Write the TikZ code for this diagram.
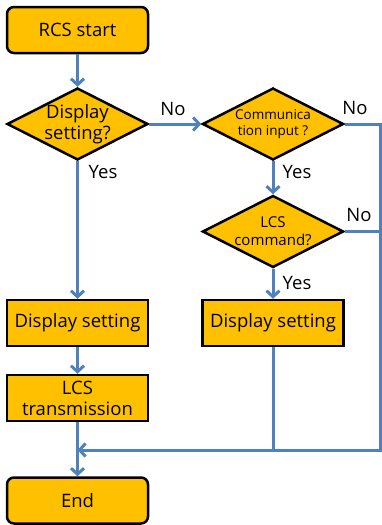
\documentclass[tikz,border=0pt]{standalone}
\usepackage{fontspec}
\setmainfont{Open Sans}
\usetikzlibrary{shapes.geometric,arrows.meta}
\definecolor{flowfill}{HTML}{FFC000}
\definecolor{flowline}{HTML}{4F81BD}
\begin{document}
\begin{tikzpicture}[x=1pt,y=-1pt,
  box/.style={draw=black,line width=2.5pt,fill=flowfill,minimum width=141pt,minimum height=46pt,inner sep=0pt,align=center,font=\fontsize{18.5}{21}\selectfont},
  term/.style={box,rounded corners=7pt},
  dia/.style={diamond,draw=black,line width=2.5pt,fill=flowfill,minimum width=141pt,minimum height=72pt,inner sep=0pt},
  dtext/.style={align=center,inner sep=0pt},
  conn/.style={draw=flowline,line width=3pt},
  arr/.style={conn,-{Straight Barb[length=6pt,width=13pt]}},
  lbl/.style={font=\fontsize{18.5}{21}\selectfont,inner sep=0pt}]
\useasboundingbox (0,0) rectangle (381,525);

% left column
\node[term] (start) at (77.5,30) {RCS start};
\node[dia] (d1) at (77.5,124) {};
\node[dtext,font=\fontsize{18.5}{21}\selectfont] (t1) at (d1.center) {Display\\setting?};
\node[box] (ds1) at (77.5,323) {Display setting};
\node[box] (lcs) at (77.5,398) {LCS\\transmission};
\node[term] (end) at (77.5,500.5) {End};

% right column
\node[dia] (d2) at (273,124) {};
\node[dtext,font=\fontsize{13.5}{16}\selectfont] (t2) at (d2.center) {Communica\\tion input ?};
\node[dia] (d3) at (273,231.5) {};
\node[dtext,font=\fontsize{15}{18}\selectfont] (t3) at (d3.center) {LCS\\command?};
\node[box] (ds2) at (273,323) {Display setting};

% merge points
\coordinate (rt) at (380,124);
\coordinate (rb) at (380,450);
\coordinate (join) at (77.5,450);
\coordinate (mid) at (273,450);
\coordinate (rm) at (380,231.5);

% connectors
\draw[arr] (start) -- (d1);
\draw[arr] (d1) -- (ds1);
\draw[arr] (ds1) -- (lcs);
\draw[conn] (lcs) -- (join);
\draw[arr] (join) -- (end);
\draw[arr] (d1) -- (d2);
\draw[arr] (d2) -- (d3);
\draw[arr] (d3) -- (ds2);
\draw[conn] (d2.east) -- (rt) -- (rb) -- (mid);
\draw[arr] (mid) -- (join);
\draw[conn] (d3.east) -- (rm);
\draw[conn] (ds2) -- (mid);

% branch labels
\node[lbl] (no1) at (173,109) {No};
\node[lbl] (yes1) at (103,172) {Yes};
\node[lbl] (no2) at (355,108) {No};
\node[lbl] (yes2) at (297,172) {Yes};
\node[lbl] (no3) at (359,215) {No};
\node[lbl] (yes3) at (297,283) {Yes};
\end{tikzpicture}
\end{document}
